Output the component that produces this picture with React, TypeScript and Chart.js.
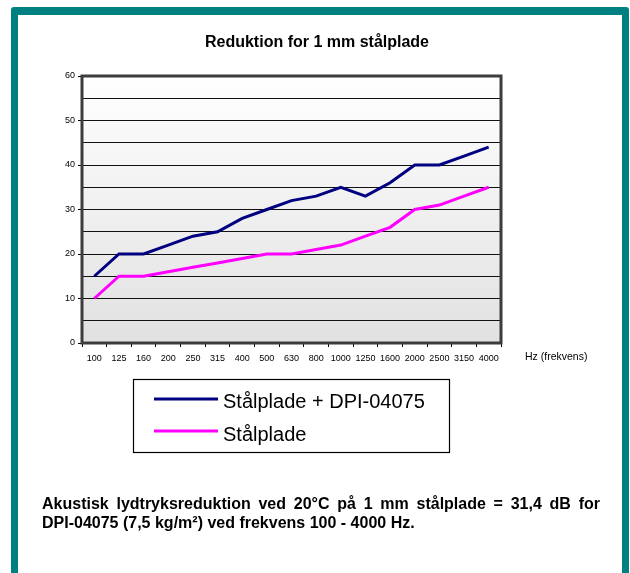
import React, { useEffect, useRef } from "react";
import { Chart, registerables } from "chart.js";

Chart.register(...registerables);

// ---- data ----
const frequencies = ["100", "125", "160", "200", "250", "315", "400", "500", "630", "800", "1000", "1250", "1600", "2000", "2500", "3150", "4000"];
const steelWithDpi = [15, 20, 20, 22, 24, 25, 28, 30, 32, 33, 35, 33, 36, 40, 40, 42, 44];
const steelOnly = [10, 15, 15, 16, 17, 18, 19, 20, 20, 21, 22, 24, 26, 30, 31, 33, 35];
const seriesNames = ["Stålplade + DPI-04075", "Stålplade"];
const seriesColors = ["#000080", "#ff00ff"];
const yMin = 0;
const yMax = 60;
const yGridStep = 5;
const yLabelStep = 10;
const chartTitle = "Reduktion for 1 mm stålplade";
const xAxisTitle = "Hz (frekvens)";
const noteLine1 = "Akustisk lydtryksreduktion ved 20°C på 1 mm stålplade = 31,4 dB for";
const noteLine2 = "DPI-04075 (7,5 kg/m²) ved frekvens 100 - 4000 Hz.";

const FONT = "'Liberation Sans', Arial, Helvetica, sans-serif";

const plotBackground = {
  id: "plotBackground",
  beforeDraw(chart: any) {
    const { ctx, chartArea: a } = chart;
    if (!a) return;
    const g = ctx.createLinearGradient(0, a.top, 0, a.bottom);
    g.addColorStop(0, "#ffffff");
    g.addColorStop(1, "#e1e1e1");
    ctx.save();
    ctx.fillStyle = g;
    ctx.fillRect(a.left, a.top, a.right - a.left, a.bottom - a.top);
    ctx.restore();
  },
};

const plotFrame = {
  id: "plotFrame",
  afterDraw(chart: any) {
    const { ctx, chartArea: a } = chart;
    ctx.save();
    ctx.strokeStyle = "#3c3c3c";
    ctx.lineWidth = 3;
    ctx.strokeRect(a.left, a.top, a.right - a.left, a.bottom - a.top);
    ctx.restore();
  },
};

const boxedLegend = {
  id: "boxedLegend",
  afterDraw(chart: any, _args: any, opts: any) {
    const { ctx } = chart;
    const { x, y, w, h, lineX1, lineX2, textX, rows, fontSize } = opts;
    ctx.save();
    ctx.strokeStyle = "#000";
    ctx.lineWidth = 1.2;
    ctx.strokeRect(x + 0.5, y + 0.5, w, h);
    chart.data.datasets.forEach((ds: any, i: number) => {
      const r = rows[i];
      ctx.strokeStyle = ds.borderColor;
      ctx.lineWidth = 3;
      ctx.beginPath();
      ctx.moveTo(lineX1, r.lineY);
      ctx.lineTo(lineX2, r.lineY);
      ctx.stroke();
      ctx.fillStyle = "#000";
      ctx.font = `${fontSize}px ${FONT}`;
      ctx.textBaseline = "alphabetic";
      ctx.textAlign = "left";
      ctx.fillText(ds.label, textX, r.baseline);
    });
    ctx.restore();
  },
};

export default function App() {
  const canvasRef = useRef<HTMLCanvasElement | null>(null);

  useEffect(() => {
    if (!canvasRef.current) return;
    const chart = new Chart(canvasRef.current, {
      type: "line",
      data: {
        labels: frequencies,
        datasets: [
          {
            label: seriesNames[0],
            data: steelWithDpi,
            borderColor: seriesColors[0],
            backgroundColor: seriesColors[0],
            borderWidth: 3,
            pointRadius: 0,
            tension: 0,
            fill: false,
          },
          {
            label: seriesNames[1],
            data: steelOnly,
            borderColor: seriesColors[1],
            backgroundColor: seriesColors[1],
            borderWidth: 3,
            pointRadius: 0,
            tension: 0,
            fill: false,
          },
        ],
      },
      options: {
        animation: false,
        responsive: false,
        devicePixelRatio: 1,
        layout: { padding: { left: 52, top: 76, right: 129, bottom: 200 } },
        plugins: {
          legend: { display: false },
          title: { display: false },
          tooltip: { enabled: false },
          boxedLegend: {
            x: 133,
            y: 379,
            w: 316,
            h: 73,
            lineX1: 154,
            lineX2: 218,
            textX: 223,
            fontSize: 20,
            rows: [
              { lineY: 399, baseline: 408 },
              { lineY: 431, baseline: 441 },
            ],
          },
        } as any,
        scales: {
          x: {
            type: "category",
            offset: true,
            afterFit: (s: any) => {
              s.height = 30;
            },
            grid: {
              drawOnChartArea: false,
              drawTicks: true,
              tickLength: 4,
              color: "#000",
              offset: true,
            },
            border: { display: false },
            ticks: {
              autoSkip: false,
              maxRotation: 0,
              minRotation: 0,
              padding: 6,
              color: "#000",
              font: { family: FONT, size: 9 },
            },
          },
          y: {
            min: yMin,
            max: yMax,
            afterFit: (s: any) => {
              s.width = 30;
            },
            grid: {
              color: "#111",
              lineWidth: 1,
              drawTicks: true,
              tickLength: 4,
              tickColor: (ctx: any) =>
                ctx.tick && ctx.tick.value % yLabelStep === 0 ? "#000" : "rgba(0,0,0,0)",
            },
            border: { display: false },
            ticks: {
              stepSize: yGridStep,
              padding: 3,
              color: "#000",
              font: { family: FONT, size: 9 },
              callback: (v: any) => (Number(v) % yLabelStep === 0 ? String(v) : ""),
            },
          },
        },
      },
      plugins: [plotBackground, plotFrame, boxedLegend],
    });
    return () => chart.destroy();
  }, []);

  return (
    <div
      style={{
        position: "absolute",
        left: 0,
        top: 0,
        width: 630,
        height: 573,
        overflow: "hidden",
        background: "#fff",
        fontFamily: FONT,
      }}
    >
      <div
        style={{
          position: "absolute",
          left: 11,
          top: 7,
          width: 618,
          height: 620,
          boxSizing: "border-box",
          border: "7px solid #008080",
          borderTopWidth: 8,
          borderRadius: 3,
          background: "#fff",
        }}
      />
      <canvas
        ref={canvasRef}
        width={630}
        height={573}
        style={{ position: "absolute", left: 0, top: 0, width: 630, height: 573 }}
      />
      <div
        style={{
          position: "absolute",
          left: 17,
          width: 600,
          top: 32,
          textAlign: "center",
          fontWeight: "bold",
          fontSize: 16,
          lineHeight: "20px",
          color: "#000",
          whiteSpace: "nowrap",
        }}
      >
        {chartTitle}
      </div>
      <div
        style={{
          position: "absolute",
          left: 525,
          top: 350,
          fontSize: 10.5,
          lineHeight: "12px",
          color: "#000",
          whiteSpace: "nowrap",
        }}
      >
        {xAxisTitle}
      </div>
      <div
        style={{
          position: "absolute",
          left: 42,
          top: 494,
          width: 558,
          fontWeight: "bold",
          fontSize: 16,
          lineHeight: "19px",
          color: "#000",
        }}
      >
        <div style={{ textAlign: "justify", textAlignLast: "justify", whiteSpace: "nowrap" as any }}>
          {noteLine1}
        </div>
        <div style={{ whiteSpace: "nowrap" }}>{noteLine2}</div>
      </div>
    </div>
  );
}
